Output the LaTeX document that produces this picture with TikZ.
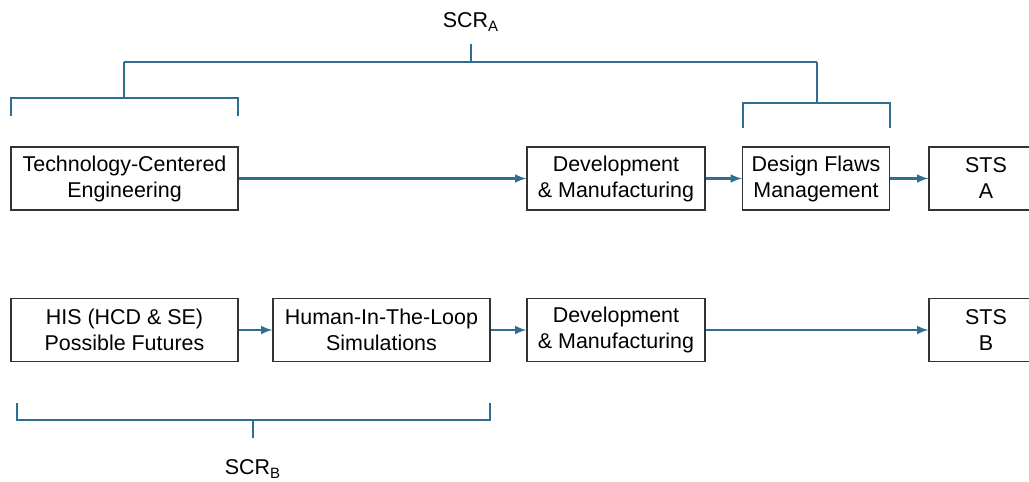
\documentclass[tikz,border=0pt]{standalone}
\usepackage{fontspec}
\setmainfont{Liberation Sans}
\usepackage{tikz}
\usetikzlibrary{arrows}
\usetikzlibrary{positioning}
\definecolor{scrblue}{RGB}{46,110,145}
\tikzstyle{Abox}=[draw=black!80,line width=0.7pt,inner sep=0,align=center,
                minimum height=1.26cm,font=\fontsize{12.2}{14.8}\selectfont]
\tikzstyle{flow}=[draw=scrblue,line width=1.2pt,->,>=latex]
\tikzstyle{brace}=[draw=scrblue,line width=1.3pt]
\tikzstyle{scr}=[font=\fontsize{12.2}{14.8}\selectfont]

\begin{document}
\begin{tikzpicture}[x=0.02cm,y=-0.02cm]
  \useasboundingbox (0,0) rectangle (1029,481);
  \clip (0,0) rectangle (1029,481);

	% row A
	\node[Abox,minimum width=4.54cm] (tce) at (124.5,178.5) {Technology-Centered\\Engineering};
	\node[Abox,minimum width=3.56cm] (devA) at (616,178.5) {Development\\\& Manufacturing};
	\node[Abox,minimum width=2.94cm] (dfm) at (816,178.5) {Design Flaws\\Management};
	\node[Abox,minimum width=2.28cm] (stsA) at (986,178.5) {STS\\A};
	\path (tce) edge[flow] (devA) (devA) edge[flow] (dfm) (dfm) edge[flow] (stsA);

	% row B
	\node[Abox,minimum width=4.54cm] (his) at (124.5,330) {HIS (HCD \& SE)\\Possible Futures};
	\node[Abox,minimum width=4.34cm] (hitl) at (381.5,330) {Human-In-The-Loop\\Simulations};
	\node[Abox,minimum width=3.56cm] (devB) at (616,330) {Development\\\& Manufacturing};
	\node[Abox,minimum width=2.28cm] (stsB) at (986,330) {STS\\B};
	\path (his) edge[flow] (hitl) (hitl) edge[flow] (devB) (devB) edge[flow] (stsB);

	% SCR brackets
	\node[scr] (scrA) at (471,22) {SCR\textsubscript{A}};
	\node[scr] (scrB) at (253,469) {SCR\textsubscript{B}};
	\draw[brace] (471,44) -- (471,62) (124,62) -- (817,62);
	\draw[brace] (124,62) -- (124,98) (11,116) -- (11,98) -- (238,98) -- (238,116);
	\draw[brace] (817,62) -- (817,103) (743,128) -- (743,103) -- (890,103) -- (890,128);
	\draw[brace] (17,403) -- (17,420) -- (490,420) -- (490,403) (253,420) -- (253,438);
\end{tikzpicture}
\end{document}
